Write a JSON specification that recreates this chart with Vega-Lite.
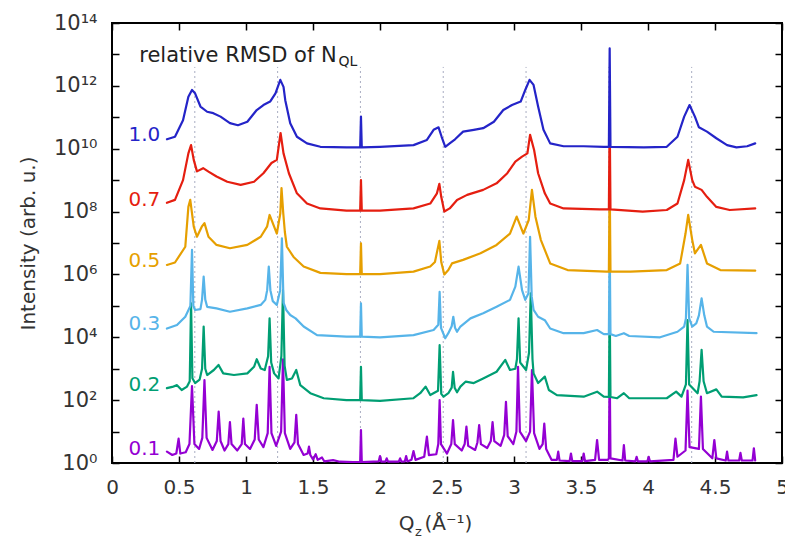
{
  "$schema": "https://vega.github.io/schema/vega-lite/v6.json",
  "width": 670,
  "height": 440,
  "autosize": {"type": "none"},
  "padding": {"left": 112, "top": 23, "right": 3, "bottom": 79},
  "background": "white",
  "config": {
    "view": {"stroke": "black", "strokeWidth": 2},
    "font": "DejaVu Sans",
    "text": {"font": "DejaVu Sans"}
  },
  "datasets": {
    "vlines": [
      {"q": 0.618, "lo": 1, "hi": 4e12},
      {"q": 1.236, "lo": 1, "hi": 4e12},
      {"q": 1.854, "lo": 1, "hi": 4e12},
      {"q": 2.472, "lo": 1, "hi": 4e12},
      {"q": 3.09, "lo": 1, "hi": 4e12},
      {"q": 3.708, "lo": 1, "hi": 4e12},
      {"q": 4.326, "lo": 1, "hi": 4e12}
    ],
    "labels": [
      {"s": "1.0", "q": 0.36, "i": 2.7e10},
      {"s": "0.7", "q": 0.36, "i": 2.4e8},
      {"s": "0.5", "q": 0.36, "i": 2.7e6},
      {"s": "0.3", "q": 0.36, "i": 2.6e4},
      {"s": "0.2", "q": 0.36, "i": 295},
      {"s": "0.1", "q": 0.36, "i": 2.7}
    ],
    "title": [{"t": "relative RMSD of N", "q": 0.94, "i": 5.6e12}],
    "sub": [{"t": "QL", "q": 1.69, "i": 4.2e12}],
    "curves": [
      {"s":"0.1","q":0.41,"i":2.3},{"s":"0.1","q":0.45,"i":1.8},{"s":"0.1","q":0.48,"i":2.0},{"s":"0.1","q":0.497,"i":6.0},{"s":"0.1","q":0.51,"i":2.0},
      {"s":"0.1","q":0.55,"i":2.2},{"s":"0.1","q":0.578,"i":4.0},{"s":"0.1","q":0.597,"i":282},{"s":"0.1","q":0.615,"i":4.0},{"s":"0.1","q":0.65,"i":2.8},
      {"s":"0.1","q":0.674,"i":6.3},{"s":"0.1","q":0.69,"i":437},{"s":"0.1","q":0.706,"i":6.3},{"s":"0.1","q":0.75,"i":2.6},{"s":"0.1","q":0.782,"i":5.0},
      {"s":"0.1","q":0.796,"i":43},{"s":"0.1","q":0.81,"i":5.0},{"s":"0.1","q":0.84,"i":2.5},{"s":"0.1","q":0.868,"i":4.0},{"s":"0.1","q":0.88,"i":20},
      {"s":"0.1","q":0.892,"i":4.0},{"s":"0.1","q":0.935,"i":2.5},{"s":"0.1","q":0.968,"i":4.0},{"s":"0.1","q":0.98,"i":26},{"s":"0.1","q":0.992,"i":4.0},
      {"s":"0.1","q":1.03,"i":2.8},{"s":"0.1","q":1.065,"i":5.6},{"s":"0.1","q":1.08,"i":71},{"s":"0.1","q":1.095,"i":5.6},{"s":"0.1","q":1.13,"i":3.2},
      {"s":"0.1","q":1.162,"i":8.9},{"s":"0.1","q":1.176,"i":1150},{"s":"0.1","q":1.19,"i":8.9},{"s":"0.1","q":1.225,"i":3.5},{"s":"0.1","q":1.262,"i":10},
      {"s":"0.1","q":1.276,"i":2000},{"s":"0.1","q":1.29,"i":8.9},{"s":"0.1","q":1.33,"i":2.8},{"s":"0.1","q":1.362,"i":4.5},{"s":"0.1","q":1.375,"i":34},
      {"s":"0.1","q":1.388,"i":4.0},{"s":"0.1","q":1.43,"i":1.8},{"s":"0.1","q":1.46,"i":2.0},{"s":"0.1","q":1.47,"i":3.3},{"s":"0.1","q":1.48,"i":1.8},
      {"s":"0.1","q":1.5,"i":1.3},{"s":"0.1","q":1.52,"i":1.9},{"s":"0.1","q":1.535,"i":1.26},{"s":"0.1","q":1.567,"i":1.5},{"s":"0.1","q":1.585,"i":1.12},
      {"s":"0.1","q":1.65,"i":1.23},{"s":"0.1","q":1.7,"i":1.1},{"s":"0.1","q":1.8,"i":1.07},{"s":"0.1","q":1.852,"i":1.07},{"s":"0.1","q":1.858,"i":11.2},
      {"s":"0.1","q":1.864,"i":1.07},{"s":"0.1","q":1.95,"i":1.1},{"s":"0.1","q":1.99,"i":1.12},{"s":"0.1","q":2.0,"i":1.66},{"s":"0.1","q":2.01,"i":1.1},
      {"s":"0.1","q":2.04,"i":1.1},{"s":"0.1","q":2.05,"i":1.41},{"s":"0.1","q":2.06,"i":1.1},{"s":"0.1","q":2.14,"i":1.1},{"s":"0.1","q":2.15,"i":1.41},
      {"s":"0.1","q":2.16,"i":1.1},{"s":"0.1","q":2.185,"i":1.12},{"s":"0.1","q":2.195,"i":1.66},{"s":"0.1","q":2.205,"i":1.12},{"s":"0.1","q":2.235,"i":1.26},
      {"s":"0.1","q":2.25,"i":2.4},{"s":"0.1","q":2.265,"i":1.26},{"s":"0.1","q":2.33,"i":1.58},{"s":"0.1","q":2.35,"i":6.9},{"s":"0.1","q":2.365,"i":1.78},
      {"s":"0.1","q":2.42,"i":1.9},{"s":"0.1","q":2.435,"i":4.0},{"s":"0.1","q":2.445,"i":100},{"s":"0.1","q":2.455,"i":4.0},{"s":"0.1","q":2.5,"i":2.0},
      {"s":"0.1","q":2.532,"i":4.0},{"s":"0.1","q":2.545,"i":23},{"s":"0.1","q":2.558,"i":4.0},{"s":"0.1","q":2.61,"i":2.5},{"s":"0.1","q":2.632,"i":4.0},
      {"s":"0.1","q":2.645,"i":14.5},{"s":"0.1","q":2.658,"i":3.5},{"s":"0.1","q":2.71,"i":2.6},{"s":"0.1","q":2.727,"i":4.5},{"s":"0.1","q":2.74,"i":16},
      {"s":"0.1","q":2.753,"i":4.0},{"s":"0.1","q":2.8,"i":3.0},{"s":"0.1","q":2.827,"i":5.0},{"s":"0.1","q":2.84,"i":20},{"s":"0.1","q":2.853,"i":5.0},
      {"s":"0.1","q":2.9,"i":3.5},{"s":"0.1","q":2.927,"i":7.9},{"s":"0.1","q":2.94,"i":89},{"s":"0.1","q":2.953,"i":7.1},{"s":"0.1","q":2.995,"i":4.0},
      {"s":"0.1","q":3.018,"i":10},{"s":"0.1","q":3.03,"i":1150},{"s":"0.1","q":3.044,"i":10},{"s":"0.1","q":3.09,"i":5.0},{"s":"0.1","q":3.12,"i":10},
      {"s":"0.1","q":3.134,"i":910},{"s":"0.1","q":3.15,"i":8.9},{"s":"0.1","q":3.19,"i":2.8},{"s":"0.1","q":3.214,"i":4.0},{"s":"0.1","q":3.226,"i":18},
      {"s":"0.1","q":3.24,"i":2.8},{"s":"0.1","q":3.28,"i":1.26},{"s":"0.1","q":3.32,"i":1.26},{"s":"0.1","q":3.33,"i":2.3},{"s":"0.1","q":3.34,"i":1.2},
      {"s":"0.1","q":3.415,"i":1.15},{"s":"0.1","q":3.425,"i":2.0},{"s":"0.1","q":3.435,"i":1.15},{"s":"0.1","q":3.51,"i":1.15},{"s":"0.1","q":3.52,"i":2.0},
      {"s":"0.1","q":3.53,"i":1.15},{"s":"0.1","q":3.605,"i":1.26},{"s":"0.1","q":3.62,"i":5.4},{"s":"0.1","q":3.635,"i":1.26},{"s":"0.1","q":3.7,"i":1.26},
      {"s":"0.1","q":3.708,"i":1.41},{"s":"0.1","q":3.714,"i":1260},{"s":"0.1","q":3.72,"i":1.41},{"s":"0.1","q":3.81,"i":1.2},{"s":"0.1","q":3.82,"i":3.7},
      {"s":"0.1","q":3.83,"i":1.2},{"s":"0.1","q":3.905,"i":1.12},{"s":"0.1","q":3.915,"i":1.58},{"s":"0.1","q":3.925,"i":1.12},{"s":"0.1","q":3.995,"i":1.12},
      {"s":"0.1","q":4.005,"i":1.58},{"s":"0.1","q":4.015,"i":1.12},{"s":"0.1","q":4.19,"i":1.26},{"s":"0.1","q":4.205,"i":6.0},{"s":"0.1","q":4.22,"i":1.58},
      {"s":"0.1","q":4.28,"i":2.5},{"s":"0.1","q":4.295,"i":200},{"s":"0.1","q":4.31,"i":3.2},{"s":"0.1","q":4.38,"i":2.8},{"s":"0.1","q":4.395,"i":129},
      {"s":"0.1","q":4.41,"i":2.8},{"s":"0.1","q":4.48,"i":1.41},{"s":"0.1","q":4.495,"i":5.4},{"s":"0.1","q":4.51,"i":1.41},{"s":"0.1","q":4.58,"i":1.2},
      {"s":"0.1","q":4.59,"i":2.3},{"s":"0.1","q":4.6,"i":1.2},{"s":"0.1","q":4.68,"i":1.2},{"s":"0.1","q":4.69,"i":2.1},{"s":"0.1","q":4.7,"i":1.2},
      {"s":"0.1","q":4.78,"i":1.2},{"s":"0.1","q":4.79,"i":2.95},{"s":"0.1","q":4.8,"i":1.2},

      {"s":"0.2","q":0.41,"i":240},{"s":"0.2","q":0.45,"i":263},{"s":"0.2","q":0.485,"i":300},{"s":"0.2","q":0.52,"i":210},{"s":"0.2","q":0.56,"i":270},
      {"s":"0.2","q":0.58,"i":400},{"s":"0.2","q":0.59,"i":1.2e5},{"s":"0.2","q":0.6,"i":500},{"s":"0.2","q":0.62,"i":350},{"s":"0.2","q":0.654,"i":450},
      {"s":"0.2","q":0.672,"i":1000},{"s":"0.2","q":0.684,"i":2.2e4},{"s":"0.2","q":0.696,"i":1000},{"s":"0.2","q":0.71,"i":630},{"s":"0.2","q":0.76,"i":910},
      {"s":"0.2","q":0.795,"i":1320},{"s":"0.2","q":0.83,"i":710},{"s":"0.2","q":0.91,"i":630},{"s":"0.2","q":1.01,"i":710},{"s":"0.2","q":1.06,"i":1150},
      {"s":"0.2","q":1.08,"i":2000},{"s":"0.2","q":1.11,"i":1020},{"s":"0.2","q":1.14,"i":910},{"s":"0.2","q":1.165,"i":2500},{"s":"0.2","q":1.176,"i":4.0e4},
      {"s":"0.2","q":1.188,"i":1580},{"s":"0.2","q":1.21,"i":710},{"s":"0.2","q":1.243,"i":490},{"s":"0.2","q":1.264,"i":2500},{"s":"0.2","q":1.276,"i":3.16e5},
      {"s":"0.2","q":1.288,"i":1260},{"s":"0.2","q":1.305,"i":440},{"s":"0.2","q":1.343,"i":490},{"s":"0.2","q":1.375,"i":910},{"s":"0.2","q":1.405,"i":300},
      {"s":"0.2","q":1.48,"i":166},{"s":"0.2","q":1.58,"i":115},{"s":"0.2","q":1.75,"i":100},{"s":"0.2","q":1.852,"i":100},{"s":"0.2","q":1.858,"i":1150},
      {"s":"0.2","q":1.864,"i":100},{"s":"0.2","q":2.0,"i":95},{"s":"0.2","q":2.25,"i":115},{"s":"0.2","q":2.3,"i":166},{"s":"0.2","q":2.34,"i":270},
      {"s":"0.2","q":2.375,"i":145},{"s":"0.2","q":2.433,"i":200},{"s":"0.2","q":2.445,"i":5600},{"s":"0.2","q":2.457,"i":158},{"s":"0.2","q":2.475,"i":129},
      {"s":"0.2","q":2.51,"i":166},{"s":"0.2","q":2.535,"i":250},{"s":"0.2","q":2.545,"i":800},{"s":"0.2","q":2.557,"i":250},{"s":"0.2","q":2.575,"i":178},
      {"s":"0.2","q":2.6,"i":270},{"s":"0.2","q":2.64,"i":390},{"s":"0.2","q":2.7,"i":350},{"s":"0.2","q":2.77,"i":490},{"s":"0.2","q":2.87,"i":800},
      {"s":"0.2","q":2.935,"i":1900},{"s":"0.2","q":2.97,"i":910},{"s":"0.2","q":3.01,"i":1000},{"s":"0.2","q":3.022,"i":2000},{"s":"0.2","q":3.034,"i":4.0e4},
      {"s":"0.2","q":3.046,"i":1580},{"s":"0.2","q":3.09,"i":910},{"s":"0.2","q":3.112,"i":3160},{"s":"0.2","q":3.125,"i":2.5e5},{"s":"0.2","q":3.138,"i":2000},
      {"s":"0.2","q":3.146,"i":710},{"s":"0.2","q":3.18,"i":350},{"s":"0.2","q":3.23,"i":560},{"s":"0.2","q":3.26,"i":210},{"s":"0.2","q":3.32,"i":145},
      {"s":"0.2","q":3.52,"i":129},{"s":"0.2","q":3.62,"i":186},{"s":"0.2","q":3.67,"i":129},{"s":"0.2","q":3.708,"i":126},{"s":"0.2","q":3.714,"i":1.26e5},
      {"s":"0.2","q":3.72,"i":126},{"s":"0.2","q":3.77,"i":115},{"s":"0.2","q":3.82,"i":166},{"s":"0.2","q":3.86,"i":115},{"s":"0.2","q":4.14,"i":115},
      {"s":"0.2","q":4.21,"i":186},{"s":"0.2","q":4.25,"i":129},{"s":"0.2","q":4.283,"i":316},{"s":"0.2","q":4.295,"i":3.5e4},{"s":"0.2","q":4.307,"i":316},
      {"s":"0.2","q":4.37,"i":166},{"s":"0.2","q":4.385,"i":400},{"s":"0.2","q":4.4,"i":4000},{"s":"0.2","q":4.415,"i":400},{"s":"0.2","q":4.44,"i":166},
      {"s":"0.2","q":4.51,"i":220},{"s":"0.2","q":4.55,"i":129},{"s":"0.2","q":4.71,"i":123},{"s":"0.2","q":4.81,"i":145},

      {"s":"0.3","q":0.41,"i":1.9e4},{"s":"0.3","q":0.485,"i":2.45e4},{"s":"0.3","q":0.547,"i":4.5e4},{"s":"0.3","q":0.585,"i":1.0e5},{"s":"0.3","q":0.597,"i":6.0e6},
      {"s":"0.3","q":0.607,"i":1.0e5},{"s":"0.3","q":0.62,"i":7.4e4},{"s":"0.3","q":0.66,"i":7.9e4},{"s":"0.3","q":0.672,"i":1.58e5},{"s":"0.3","q":0.684,"i":8.5e5},
      {"s":"0.3","q":0.696,"i":1.58e5},{"s":"0.3","q":0.71,"i":9.3e4},{"s":"0.3","q":0.78,"i":8.3e4},{"s":"0.3","q":0.88,"i":6.5e4},{"s":"0.3","q":1.01,"i":8.3e4},
      {"s":"0.3","q":1.11,"i":1.07e5},{"s":"0.3","q":1.144,"i":1.55e5},{"s":"0.3","q":1.158,"i":3.16e5},{"s":"0.3","q":1.17,"i":1.78e6},{"s":"0.3","q":1.182,"i":3.16e5},
      {"s":"0.3","q":1.2,"i":1.41e5},{"s":"0.3","q":1.23,"i":1.07e5},{"s":"0.3","q":1.255,"i":3.16e5},{"s":"0.3","q":1.268,"i":1.4e7},{"s":"0.3","q":1.28,"i":1.26e5},
      {"s":"0.3","q":1.3,"i":7.4e4},{"s":"0.3","q":1.33,"i":5.1e4},{"s":"0.3","q":1.37,"i":4.0e4},{"s":"0.3","q":1.43,"i":2.2e4},{"s":"0.3","q":1.53,"i":1.17e4},
      {"s":"0.3","q":1.75,"i":1.05e4},{"s":"0.3","q":1.852,"i":1.05e4},{"s":"0.3","q":1.858,"i":1.2e5},{"s":"0.3","q":1.864,"i":1.05e4},{"s":"0.3","q":2.0,"i":1.0e4},
      {"s":"0.3","q":2.25,"i":1.17e4},{"s":"0.3","q":2.4,"i":1.7e4},{"s":"0.3","q":2.435,"i":2.5e4},{"s":"0.3","q":2.445,"i":2.8e5},{"s":"0.3","q":2.455,"i":2.0e4},
      {"s":"0.3","q":2.487,"i":9.3e3},{"s":"0.3","q":2.51,"i":1.35e4},{"s":"0.3","q":2.535,"i":2.24e4},{"s":"0.3","q":2.547,"i":4.5e4},{"s":"0.3","q":2.56,"i":2.0e4},
      {"s":"0.3","q":2.575,"i":1.5e4},{"s":"0.3","q":2.6,"i":2.2e4},{"s":"0.3","q":2.675,"i":4.0e4},{"s":"0.3","q":2.77,"i":5.8e4},{"s":"0.3","q":2.87,"i":9.3e4},
      {"s":"0.3","q":2.97,"i":1.55e5},{"s":"0.3","q":3.01,"i":4.1e5},{"s":"0.3","q":3.034,"i":1.78e6},{"s":"0.3","q":3.06,"i":3.16e5},{"s":"0.3","q":3.084,"i":1.55e5},
      {"s":"0.3","q":3.108,"i":2.5e5},{"s":"0.3","q":3.12,"i":1.58e7},{"s":"0.3","q":3.132,"i":2.0e5},{"s":"0.3","q":3.146,"i":7.4e4},{"s":"0.3","q":3.18,"i":4.5e4},
      {"s":"0.3","q":3.23,"i":3.5e4},{"s":"0.3","q":3.27,"i":1.9e4},{"s":"0.3","q":3.37,"i":1.35e4},{"s":"0.3","q":3.52,"i":1.35e4},{"s":"0.3","q":3.62,"i":1.7e4},
      {"s":"0.3","q":3.67,"i":1.26e4},{"s":"0.3","q":3.708,"i":1.26e4},{"s":"0.3","q":3.714,"i":1.26e7},{"s":"0.3","q":3.72,"i":1.26e4},{"s":"0.3","q":3.76,"i":1.1e4},
      {"s":"0.3","q":3.82,"i":1.35e4},{"s":"0.3","q":3.86,"i":1.1e4},{"s":"0.3","q":4.09,"i":1.0e4},{"s":"0.3","q":4.22,"i":1.5e4},{"s":"0.3","q":4.27,"i":2.2e4},
      {"s":"0.3","q":4.283,"i":4.0e4},{"s":"0.3","q":4.295,"i":2.0e6},{"s":"0.3","q":4.307,"i":4.0e4},{"s":"0.3","q":4.33,"i":2.2e4},{"s":"0.3","q":4.36,"i":2.75e4},
      {"s":"0.3","q":4.38,"i":5.0e4},{"s":"0.3","q":4.4,"i":1.74e5},{"s":"0.3","q":4.42,"i":5.0e4},{"s":"0.3","q":4.44,"i":2.2e4},{"s":"0.3","q":4.49,"i":1.5e4},
      {"s":"0.3","q":4.81,"i":1.35e4},

      {"s":"0.5","q":0.41,"i":2.0e6},{"s":"0.5","q":0.47,"i":2.4e6},{"s":"0.5","q":0.547,"i":7.6e6},{"s":"0.5","q":0.57,"i":1.41e8},{"s":"0.5","q":0.584,"i":2.35e8},
      {"s":"0.5","q":0.61,"i":3.3e7},{"s":"0.5","q":0.634,"i":1.58e7},{"s":"0.5","q":0.67,"i":3.3e7},{"s":"0.5","q":0.69,"i":4.3e7},{"s":"0.5","q":0.72,"i":1.58e7},
      {"s":"0.5","q":0.78,"i":8.7e6},{"s":"0.5","q":0.88,"i":6.8e6},{"s":"0.5","q":1.01,"i":8.7e6},{"s":"0.5","q":1.11,"i":1.58e7},{"s":"0.5","q":1.157,"i":3.3e7},
      {"s":"0.5","q":1.176,"i":7.8e7},{"s":"0.5","q":1.21,"i":3.3e7},{"s":"0.5","q":1.23,"i":2.0e7},{"s":"0.5","q":1.256,"i":8.7e7},{"s":"0.5","q":1.265,"i":5.6e8},
      {"s":"0.5","q":1.278,"i":8.9e7},{"s":"0.5","q":1.29,"i":2.24e7},{"s":"0.5","q":1.305,"i":7.6e6},{"s":"0.5","q":1.355,"i":3.6e6},{"s":"0.5","q":1.43,"i":1.78e6},
      {"s":"0.5","q":1.555,"i":1.12e6},{"s":"0.5","q":1.75,"i":1.02e6},{"s":"0.5","q":1.852,"i":1.02e6},{"s":"0.5","q":1.858,"i":9.8e6},{"s":"0.5","q":1.864,"i":1.02e6},
      {"s":"0.5","q":2.0,"i":1.02e6},{"s":"0.5","q":2.25,"i":1.23e6},{"s":"0.5","q":2.375,"i":1.78e6},{"s":"0.5","q":2.41,"i":2.5e6},{"s":"0.5","q":2.443,"i":1.17e7},
      {"s":"0.5","q":2.457,"i":2.5e6},{"s":"0.5","q":2.48,"i":1.0e6},{"s":"0.5","q":2.51,"i":1.38e6},{"s":"0.5","q":2.537,"i":2.24e6},{"s":"0.5","q":2.62,"i":2.9e6},
      {"s":"0.5","q":2.75,"i":4.7e6},{"s":"0.5","q":2.87,"i":8.7e6},{"s":"0.5","q":2.97,"i":2.0e7},{"s":"0.5","q":3.02,"i":6.9e7},{"s":"0.5","q":3.07,"i":2.0e7},
      {"s":"0.5","q":3.11,"i":5.4e7},{"s":"0.5","q":3.134,"i":4.9e8},{"s":"0.5","q":3.16,"i":6.9e7},{"s":"0.5","q":3.2,"i":1.26e7},{"s":"0.5","q":3.27,"i":2.24e6},
      {"s":"0.5","q":3.4,"i":1.38e6},{"s":"0.5","q":3.69,"i":1.23e6},{"s":"0.5","q":3.708,"i":1.23e6},{"s":"0.5","q":3.714,"i":1.26e9},{"s":"0.5","q":3.72,"i":1.23e6},
      {"s":"0.5","q":3.87,"i":1.23e6},{"s":"0.5","q":4.14,"i":1.38e6},{"s":"0.5","q":4.24,"i":2.24e6},{"s":"0.5","q":4.28,"i":2.0e7},{"s":"0.5","q":4.3,"i":7.8e7},
      {"s":"0.5","q":4.33,"i":1.26e7},{"s":"0.5","q":4.35,"i":4.7e6},{"s":"0.5","q":4.395,"i":8.7e6},{"s":"0.5","q":4.44,"i":2.24e6},{"s":"0.5","q":4.54,"i":1.38e6},
      {"s":"0.5","q":4.8,"i":1.32e6},

      {"s":"0.7","q":0.41,"i":1.9e8},{"s":"0.7","q":0.47,"i":2.35e8},{"s":"0.7","q":0.53,"i":1.0e9},{"s":"0.7","q":0.57,"i":7.1e9},{"s":"0.7","q":0.59,"i":1.3e10},
      {"s":"0.7","q":0.61,"i":4.4e9},{"s":"0.7","q":0.634,"i":1.9e9},{"s":"0.7","q":0.68,"i":2.4e9},{"s":"0.7","q":0.72,"i":1.86e9},{"s":"0.7","q":0.78,"i":1.3e9},
      {"s":"0.7","q":0.86,"i":8.9e8},{"s":"0.7","q":0.96,"i":7.1e8},{"s":"0.7","q":1.06,"i":8.9e8},{"s":"0.7","q":1.13,"i":1.66e9},{"s":"0.7","q":1.19,"i":3.5e9},
      {"s":"0.7","q":1.23,"i":4.4e9},{"s":"0.7","q":1.258,"i":3.16e10},{"s":"0.7","q":1.28,"i":7.1e9},{"s":"0.7","q":1.32,"i":1.66e9},{"s":"0.7","q":1.38,"i":3.8e8},
      {"s":"0.7","q":1.455,"i":1.8e8},{"s":"0.7","q":1.555,"i":1.26e8},{"s":"0.7","q":1.75,"i":1.07e8},{"s":"0.7","q":1.852,"i":1.07e8},{"s":"0.7","q":1.858,"i":1.0e9},
      {"s":"0.7","q":1.864,"i":1.07e8},{"s":"0.7","q":2.0,"i":1.07e8},{"s":"0.7","q":2.25,"i":1.26e8},{"s":"0.7","q":2.375,"i":1.8e8},{"s":"0.7","q":2.425,"i":3.8e8},
      {"s":"0.7","q":2.443,"i":7.6e8},{"s":"0.7","q":2.457,"i":2.95e8},{"s":"0.7","q":2.48,"i":1.0e8},{"s":"0.7","q":2.52,"i":1.26e8},{"s":"0.7","q":2.575,"i":2.35e8},
      {"s":"0.7","q":2.65,"i":3.4e8},{"s":"0.7","q":2.77,"i":4.9e8},{"s":"0.7","q":2.87,"i":7.9e8},{"s":"0.7","q":2.95,"i":1.66e9},{"s":"0.7","q":3.01,"i":3.9e9},
      {"s":"0.7","q":3.06,"i":5.6e9},{"s":"0.7","q":3.1,"i":7.1e9},{"s":"0.7","q":3.12,"i":2.75e10},{"s":"0.7","q":3.15,"i":9.1e9},{"s":"0.7","q":3.18,"i":1.66e9},
      {"s":"0.7","q":3.23,"i":3.8e8},{"s":"0.7","q":3.27,"i":1.8e8},{"s":"0.7","q":3.37,"i":1.26e8},{"s":"0.7","q":3.64,"i":1.17e8},{"s":"0.7","q":3.708,"i":1.17e8},
      {"s":"0.7","q":3.714,"i":1.26e11},{"s":"0.7","q":3.72,"i":1.17e8},{"s":"0.7","q":3.96,"i":1.0e8},{"s":"0.7","q":4.14,"i":1.12e8},{"s":"0.7","q":4.22,"i":1.8e8},
      {"s":"0.7","q":4.27,"i":1.0e9},{"s":"0.7","q":4.3,"i":4.4e9},{"s":"0.7","q":4.33,"i":1.0e9},{"s":"0.7","q":4.35,"i":6.2e8},{"s":"0.7","q":4.4,"i":4.9e8},
      {"s":"0.7","q":4.44,"i":2.95e8},{"s":"0.7","q":4.51,"i":1.41e8},{"s":"0.7","q":4.61,"i":1.12e8},{"s":"0.7","q":4.8,"i":1.26e8},

      {"s":"1.0","q":0.41,"i":2.0e10},{"s":"1.0","q":0.47,"i":2.4e10},{"s":"1.0","q":0.53,"i":8.1e10},{"s":"1.0","q":0.57,"i":4.5e11},{"s":"1.0","q":0.597,"i":7.4e11},
      {"s":"1.0","q":0.62,"i":5.8e11},{"s":"1.0","q":0.66,"i":2.2e11},{"s":"1.0","q":0.71,"i":1.5e11},{"s":"1.0","q":0.756,"i":1.35e11},{"s":"1.0","q":0.81,"i":1.05e11},
      {"s":"1.0","q":0.88,"i":6.5e10},{"s":"1.0","q":0.94,"i":5.6e10},{"s":"1.0","q":1.01,"i":7.2e10},{"s":"1.0","q":1.08,"i":1.7e11},{"s":"1.0","q":1.13,"i":2.45e11},
      {"s":"1.0","q":1.18,"i":3.16e11},{"s":"1.0","q":1.22,"i":5.8e11},{"s":"1.0","q":1.256,"i":1.55e12},{"s":"1.0","q":1.28,"i":9.3e11},{"s":"1.0","q":1.293,"i":3.5e11},
      {"s":"1.0","q":1.33,"i":6.5e10},{"s":"1.0","q":1.38,"i":2.4e10},{"s":"1.0","q":1.455,"i":1.48e10},{"s":"1.0","q":1.555,"i":1.15e10},{"s":"1.0","q":1.75,"i":1.1e10},
      {"s":"1.0","q":1.852,"i":1.1e10},{"s":"1.0","q":1.858,"i":1.05e11},{"s":"1.0","q":1.864,"i":1.1e10},{"s":"1.0","q":2.0,"i":1.15e10},{"s":"1.0","q":2.25,"i":1.3e10},
      {"s":"1.0","q":2.35,"i":1.9e10},{"s":"1.0","q":2.4,"i":4.0e10},{"s":"1.0","q":2.437,"i":4.8e10},{"s":"1.0","q":2.46,"i":2.4e10},{"s":"1.0","q":2.487,"i":1.15e10},
      {"s":"1.0","q":2.52,"i":1.48e10},{"s":"1.0","q":2.56,"i":2.0e10},{"s":"1.0","q":2.62,"i":3.5e10},{"s":"1.0","q":2.7,"i":4.0e10},{"s":"1.0","q":2.77,"i":4.5e10},
      {"s":"1.0","q":2.85,"i":7.2e10},{"s":"1.0","q":2.92,"i":1.7e11},{"s":"1.0","q":2.985,"i":2.45e11},{"s":"1.0","q":3.05,"i":3.16e11},{"s":"1.0","q":3.084,"i":7.4e11},
      {"s":"1.0","q":3.116,"i":1.55e12},{"s":"1.0","q":3.146,"i":1.07e12},{"s":"1.0","q":3.18,"i":2.2e11},{"s":"1.0","q":3.22,"i":4.0e10},{"s":"1.0","q":3.27,"i":1.48e10},
      {"s":"1.0","q":3.37,"i":1.2e10},{"s":"1.0","q":3.52,"i":1.2e10},{"s":"1.0","q":3.67,"i":1.15e10},{"s":"1.0","q":3.708,"i":1.15e10},{"s":"1.0","q":3.714,"i":1.55e13},
      {"s":"1.0","q":3.72,"i":1.15e10},{"s":"1.0","q":3.97,"i":1.1e10},{"s":"1.0","q":4.14,"i":1.15e10},{"s":"1.0","q":4.22,"i":2.4e10},{"s":"1.0","q":4.27,"i":1.05e11},
      {"s":"1.0","q":4.31,"i":2.45e11},{"s":"1.0","q":4.35,"i":1.05e11},{"s":"1.0","q":4.38,"i":4.8e10},{"s":"1.0","q":4.44,"i":3.5e10},{"s":"1.0","q":4.51,"i":2.15e10},
      {"s":"1.0","q":4.59,"i":1.3e10},{"s":"1.0","q":4.66,"i":1.1e10},{"s":"1.0","q":4.74,"i":1.2e10},{"s":"1.0","q":4.8,"i":1.48e10}
    ]
  },
  "layer": [
    {
      "data": {"name": "vlines"},
      "mark": {"type": "rule", "color": "#a9adc2", "strokeDash": [2, 3], "strokeWidth": 1},
      "encoding": {
        "x": {"field": "q", "type": "quantitative", "scale": {"domain": [0, 5], "nice": false},
          "axis": {"orient": "bottom", "values": [0, 0.5, 1, 1.5, 2, 2.5, 3, 3.5, 4, 4.5, 5], "format": "~g",
            "domain": false, "grid": false, "tickSize": -7, "tickColor": "black", "tickWidth": 1.5,
            "labelPadding": 21, "labelFontSize": 20, "labelColor": "#333", "labelFlush": false, "labelOverlap": false,
            "title": "Q", "titleFontSize": 20, "titleFontWeight": "normal", "titleColor": "#333",
            "titleX": 294, "titleY": 60, "titleAlign": "center", "titleBaseline": "middle"}},
        "y": {"field": "lo", "type": "quantitative", "scale": {"type": "log", "domain": [1, 1e14], "nice": false},
          "axis": {"orient": "left", "values": [1, 10, 100, 1000, 1e4, 1e5, 1e6, 1e7, 1e8, 1e9, 1e10, 1e11, 1e12, 1e13, 1e14],
            "labelExpr": "['10⁰','','10²','','10⁴','','10⁶','','10⁸','','10¹⁰','','10¹²','','10¹⁴'][round(log(datum.value)/LN10)]",
            "domain": false, "grid": false, "tickSize": -7, "tickColor": "black", "tickWidth": 1.5,
            "labelPadding": 22, "labelFontSize": 21, "labelColor": "#333", "labelFlush": false, "labelOverlap": false, "labelBaseline": "middle",
            "title": "Intensity (arb. u.)", "titleFontSize": 20, "titleFontWeight": "normal", "titleColor": "#333",
            "titleX": -84, "titleY": 220, "titleAngle": -90, "titleAlign": "center", "titleBaseline": "middle"}},
        "y2": {"field": "hi"}
      }
    },
    {
      "data": {"name": "vlines"},
      "mark": {"type": "point", "opacity": 0},
      "encoding": {
        "x": {"field": "q", "type": "quantitative",
          "axis": {"orient": "top", "values": [0, 0.5, 1, 1.5, 2, 2.5, 3, 3.5, 4, 4.5, 5], "labels": false,
            "domain": false, "grid": false, "tickSize": -7, "tickColor": "black", "tickWidth": 1.5,
            "title": "z", "titleFontSize": 13, "titleFontWeight": "normal", "titleColor": "#333",
            "titleX": 306, "titleY": 508, "titleAlign": "center", "titleBaseline": "middle"}},
        "y": {"field": "lo", "type": "quantitative",
          "axis": {"orient": "right", "values": [1, 10, 100, 1000, 1e4, 1e5, 1e6, 1e7, 1e8, 1e9, 1e10, 1e11, 1e12, 1e13, 1e14], "labels": false,
            "domain": false, "grid": false, "tickSize": -7, "tickColor": "black", "tickWidth": 1.5,
            "title": "(Å⁻¹)", "titleFontSize": 20, "titleFontWeight": "normal", "titleColor": "#333",
            "titleX": -358, "titleY": 500, "titleAngle": 0, "titleAlign": "left", "titleBaseline": "middle"}}
      }
    },
    {
      "data": {"name": "curves"},
      "mark": {"type": "line", "strokeJoin": "round", "strokeCap": "round", "clip": true},
      "encoding": {
        "x": {"field": "q", "type": "quantitative", "axis": null},
        "y": {"field": "i", "type": "quantitative", "axis": null},
        "color": {"field": "s", "type": "nominal", "legend": null,
          "scale": {"domain": ["0.1", "0.2", "0.3", "0.5", "0.7", "1.0"], "range": ["#9400d3", "#009e73", "#56b4e9", "#e69f00", "#e51e10", "#2424c8"]}},
        "size": {"field": "s", "type": "nominal", "legend": null,
          "scale": {"domain": ["0.1", "0.2", "0.3", "0.5", "0.7", "1.0"], "range": [2.2, 2.2, 2.3, 2.6, 3, 3.3]}}
      }
    },
    {
      "data": {"name": "labels"},
      "mark": {"type": "text", "align": "right", "baseline": "middle", "fontSize": 20},
      "encoding": {
        "x": {"field": "q", "type": "quantitative", "axis": null},
        "y": {"field": "i", "type": "quantitative", "axis": null},
        "text": {"field": "s"},
        "color": {"field": "s", "type": "nominal", "legend": null}
      }
    },
    {
      "data": {"name": "title"},
      "mark": {"type": "text", "align": "center", "baseline": "alphabetic", "fontSize": 21, "color": "#222"},
      "encoding": {
        "x": {"field": "q", "type": "quantitative", "axis": null},
        "y": {"field": "i", "type": "quantitative", "axis": null},
        "text": {"field": "t"}
      }
    },
    {
      "data": {"name": "sub"},
      "mark": {"type": "text", "align": "left", "baseline": "alphabetic", "fontSize": 14, "color": "#222"},
      "encoding": {
        "x": {"field": "q", "type": "quantitative", "axis": null},
        "y": {"field": "i", "type": "quantitative", "axis": null},
        "text": {"field": "t"}
      }
    }
  ],
  "resolve": {"axis": {"x": "independent", "y": "independent"}}
}
